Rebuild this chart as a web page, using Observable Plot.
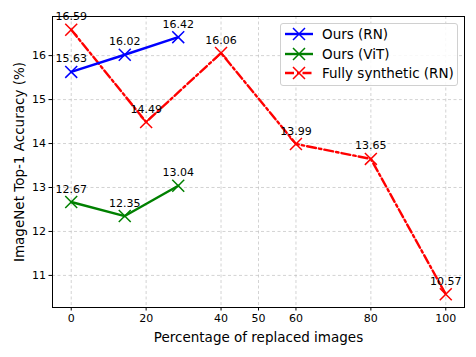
<!DOCTYPE html>
<html><head><meta charset="utf-8">
<script src="https://cdn.jsdelivr.net/npm/d3@7"></script>
<script src="https://cdn.jsdelivr.net/npm/@observablehq/plot@0.6"></script>
<style>
body{margin:0;background:#fff;font-family:"DejaVu Sans",sans-serif;}
#wrap{position:relative;width:476px;height:357px;}
#legend{position:absolute;left:280px;top:23px;width:176px;height:61px;border:1px solid #d0d0d0;border-radius:3px;background:rgba(255,255,255,0.85);font-size:13.5px;}
#legend .row{position:absolute;left:4px;height:20px;display:flex;align-items:center;}
#legend svg{margin-right:9px;}
</style>
</head><body>
<div id="wrap"><div id="legend"></div></div>
<script>
const oursX = [0, 14.29, 28.57];
const oursRN = [15.63, 16.02, 16.42];
const oursViT = [12.67, 12.35, 13.04];
const synthX = [0, 20, 40, 60, 80, 100];
const synthRN = [16.59, 14.49, 16.06, 13.99, 13.65, 10.57];
const xTicks = [0, 20, 40, 50, 60, 80, 100];
const yTicks = [11, 12, 13, 14, 15, 16];
const seriesNames = ["Ours (RN)", "Ours (ViT)", "Fully synthetic (RN)"];
const seriesColors = ["#0000ff", "#008000", "#ff0000"];

const rn = oursX.map((x,i)=>({x, y: oursRN[i]}));
const vit = oursX.map((x,i)=>({x, y: oursViT[i]}));
const syn = synthX.map((x,i)=>({x, y: synthRN[i]}));

const lbl = d => d.y.toFixed(2);
function series(data, color, dash){
  return [
    Plot.line(data, {x:"x", y:"y", stroke: color, strokeWidth: 2.4, strokeDasharray: dash}),
    Plot.dot(data, {x:"x", y:"y", symbol:"times", r: 5.5, stroke: color, strokeWidth: 1.5}),
    Plot.text(data, {x:"x", y:"y", text: lbl, dy: -13, fontSize: 11, fill: "black"})
  ];
}

const chart = Plot.plot({
  width: 476, height: 357,
  marginLeft: 52, marginRight: 12, marginTop: 16, marginBottom: 50,
  style: {fontFamily: '"DejaVu Sans", sans-serif', fontSize: "11px", color: "black", background: "transparent"},
  x: {domain: [-5, 105], ticks: xTicks, tickFormat: "d", tickSize: 3.5, tickPadding: 3, label: "Percentage of replaced images", labelAnchor: "center", labelArrow: "none", labelOffset: 34},
  y: {domain: [10.27, 16.89], ticks: yTicks, tickFormat: "d", tickSize: 3.5, tickPadding: 3, label: "ImageNet Top-1 Accuracy (%)", labelAnchor: "center", labelArrow: "none", labelOffset: 38},
  marks: [
    Plot.gridX(xTicks, {stroke: "#b0b0b0", strokeOpacity: 0.7, strokeDasharray: "3,2.5", strokeWidth: 0.8}),
    Plot.gridY(yTicks, {stroke: "#b0b0b0", strokeOpacity: 0.7, strokeDasharray: "3,2.5", strokeWidth: 0.8}),
    ...series(syn, seriesColors[2], "9,3,2.5,3"),
    ...series(rn, seriesColors[0], null),
    ...series(vit, seriesColors[1], null),
    Plot.frame({stroke: "black", strokeWidth: 1})
  ]
});
chart.querySelectorAll('g[aria-label="x-axis label"] text, g[aria-label="y-axis label"] text').forEach(t=>t.setAttribute("font-size","13.5"));
document.getElementById("wrap").prepend(chart);

const leg = document.getElementById("legend");
seriesNames.forEach((name,i)=>{
  const row = document.createElement("div");
  row.className = "row";
  row.style.top = (0 + i*19.5) + "px";
  const dash = i===2 ? 'stroke-dasharray="9,3,2.5,3"' : '';
  row.innerHTML = `<svg width="28" height="14"><line x1="0" y1="7" x2="28" y2="7" stroke="${seriesColors[i]}" stroke-width="2.4" ${dash}/><path d="M8,1L20,13M8,13L20,1" stroke="${seriesColors[i]}" stroke-width="1.5"/></svg><span>${name}</span>`;
  leg.appendChild(row);
});
</script>
</body></html>
